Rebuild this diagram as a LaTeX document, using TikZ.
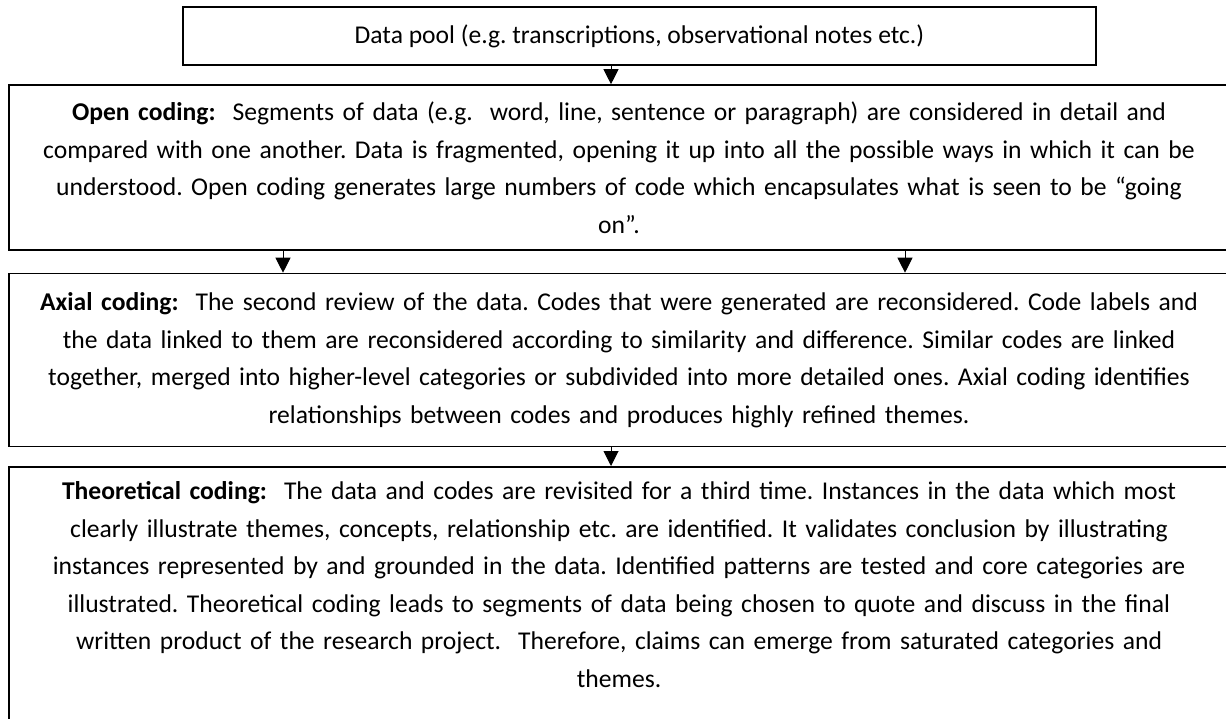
\documentclass[tikz,border=0pt]{standalone}
\usepackage{fontspec}
\setmainfont{Carlito}
\frenchspacing
\usetikzlibrary{arrows.meta}
\begin{document}
\begin{tikzpicture}[x=1pt,y=-1pt,
    box/.style={draw,line width=1.6pt,align=center,inner sep=0pt,
        font=\fontsize{25.6pt}{37.5pt}\selectfont},
    wide/.style={box,text width=1220pt,minimum width=1220pt},
    arr/.style={line width=1pt,-{Triangle[width=15pt,length=15pt]}}]
    \clip (0,0) rectangle (1226,719);
    \coordinate (leftx) at (283,0);
    \coordinate (midx) at (611,0);
    \coordinate (rightx) at (905,0);
    \node[box,minimum width=913pt,minimum height=58pt] (pool) at (639.5,36)
        {Data pool (e.g. transcriptions, observational notes etc.)};
    \node[wide,minimum height=165pt] (open) at (619,167.5)
        {\textbf{Open coding:}~ Segments of data (e.g.~ word, line, sentence or paragraph) are considered in detail and\\
        compared with one another. Data is fragmented, opening it up into all the possible ways in which it can be\\
        understood. Open coding generates large numbers of code which encapsulates what is seen to be “going\\
        on”.};
    \node[wide,minimum height=173pt] (axial) at (619,360)
        {\textbf{Axial coding:}~ The second review of the data. Codes that were generated are reconsidered. Code labels and\\
        the data linked to them are reconsidered according to similarity and difference. Similar codes are linked\\
        together, merged into higher-level categories or subdivided into more detailed ones. Axial coding identifies\\
        relationships between codes and produces highly refined themes.};
    \node[wide,anchor=north,inner ysep=15pt,text depth=280pt] (theo) at (619,466)
        {\textbf{Theoretical coding:}~ The data and codes are revisited for a third time. Instances in the data which most\\
        clearly illustrate themes, concepts, relationship etc. are identified. It validates conclusion by illustrating\\
        instances represented by and grounded in the data. Identified patterns are tested and core categories are\\
        illustrated. Theoretical coding leads to segments of data being chosen to quote and discuss in the final\\
        written product of the research project.~ Therefore, claims can emerge from saturated categories and\\
        themes.};
    \draw[arr] (pool.south -| midx) -- (open.north -| midx);
    \draw[arr] (open.south -| leftx) -- (axial.north -| leftx);
    \draw[arr] (open.south -| rightx) -- (axial.north -| rightx);
    \draw[arr] (axial.south -| midx) -- (theo.north -| midx);
\end{tikzpicture}
\end{document}
